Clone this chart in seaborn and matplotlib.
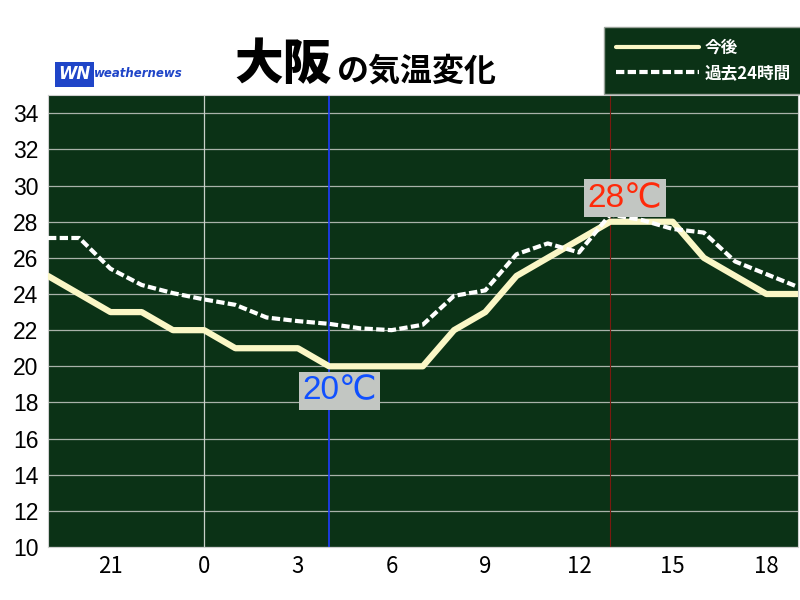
import matplotlib
matplotlib.use("Agg")
import matplotlib.pyplot as plt
import seaborn as sns
import pandas as pd

# 時刻 (前日19時 = -5 〜 当日19時)
horas = list(range(-5, 20))
previsao = [25, 24, 23, 23, 22, 22, 21, 21, 21, 20, 20, 20, 20,
            22, 23, 25, 26, 27, 28, 28, 28, 26, 25, 24, 24]
passado = [27.1, 27.1, 25.4, 24.5, 24.05, 23.7, 23.4, 22.7, 22.5, 22.35, 22.1, 22.0, 22.3,
           23.9, 24.2, 26.2, 26.8, 26.3, 28.4, 28.1, 27.6, 27.4, 25.8, 25.1, 24.4]
ticks_x = [-3, 0, 3, 6, 9, 12, 15, 18]
rotulos_x = ["21", "0", "3", "6", "9", "12", "15", "18"]
ticks_y = list(range(10, 35, 2))
hora_min, temp_min = 4, 20
hora_max, temp_max = 13, 28

df = pd.DataFrame({"hora": horas, "今後": previsao, "過去24時間": passado})

sns.set_theme(style="white")
plt.rcParams['font.family'] = ['Noto Sans CJK JP', 'DejaVu Sans']

verde = "#0b3216"
creme = "#fbf7c6"
latinas = ['Liberation Sans', 'DejaVu Sans']

fig = plt.figure(figsize=(8, 6), dpi=100)
ax = fig.add_axes([0.06, 0.0883, 0.937, 0.753])
ax.set_facecolor(verde)

# grade
for y in ticks_y:
    ax.axhline(y, color="#a9b2a9", lw=0.9, zorder=1)
ax.axvline(0, color="#c8cfc8", lw=0.9, zorder=1)
ax.axvline(hora_min, color="#1f3cff", lw=1.2, zorder=1)
ax.axvline(hora_max, color="#7a1a10", lw=0.8, zorder=1)

sns.lineplot(data=df, x="hora", y="今後", ax=ax, color=creme, lw=4.5,
             zorder=3, label="今後")
sns.lineplot(data=df, x="hora", y="過去24時間", ax=ax, color="white", lw=3,
             dashes=(2, 0.8), zorder=4, label="過去24時間")

ax.set_xlim(-5, 19)
ax.set_ylim(10, 35)
ax.set_xticks(ticks_x)
ax.set_xticklabels(rotulos_x)
ax.set_yticks(ticks_y)
ax.tick_params(axis="both", length=0, colors="black")
ax.tick_params(axis="x", pad=6, labelsize=16)
ax.tick_params(axis="y", pad=7, labelsize=16.5)
for t in ax.get_yticklabels():
    t.set_family(latinas)
ax.set_xlabel("")
ax.set_ylabel("")
for lado in ax.spines.values():
    lado.set_color("#d0d0d0")
    lado.set_linewidth(0.8)

# rótulos min / max
caixa = dict(boxstyle="square,pad=0.1", facecolor="#c2c6c2", edgecolor="none")
ax.text(hora_min + 0.33, 18.65, f"{temp_min}℃", color="#1050ff", fontsize=24,
        ha="center", va="center", bbox=caixa, zorder=5, family=latinas)
ax.text(hora_max + 0.47, 29.3, f"{temp_max}℃", color="#ff2a0a", fontsize=24,
        ha="center", va="center", bbox=caixa, zorder=5, family=latinas)

# legenda
leg = ax.legend(loc="upper right", bbox_to_anchor=(0.997, 0.947),
                bbox_transform=fig.transFigure, frameon=True, fontsize=12,
                handlelength=5.0, borderpad=0.4, labelspacing=0.45,
                handletextpad=0.35, borderaxespad=0)
leg.get_frame().set_facecolor(verde)
leg.get_frame().set_edgecolor("#9aa39a")
leg.get_frame().set_boxstyle("square")
leg.get_frame().set_alpha(1)
for t in leg.get_texts():
    t.set_color("white")
    t.set_fontweight("bold")
for ln in leg.get_lines():
    ln.set_linewidth(3)

# título
fig.text(0.293, 0.868, "大阪", fontsize=35, fontweight="black", ha="left",
         va="baseline", color="black")
fig.text(0.421, 0.866, "の気温変化", fontsize=23, fontweight="bold", ha="left",
         va="baseline", color="black")

# logo
fig.text(0.073, 0.868, "WN", fontsize=12, fontweight="bold", style="italic",
         color="white", ha="left", va="baseline", family="DejaVu Sans",
         bbox=dict(boxstyle="square,pad=0.2", facecolor="#1f45c8", edgecolor="none"))
fig.text(0.117, 0.871, "weathernews", fontsize=8.5, fontweight="bold", style="italic",
         color="#1f45c8", ha="left", va="baseline", family="DejaVu Sans")

fig.savefig("out.png", dpi=100)
